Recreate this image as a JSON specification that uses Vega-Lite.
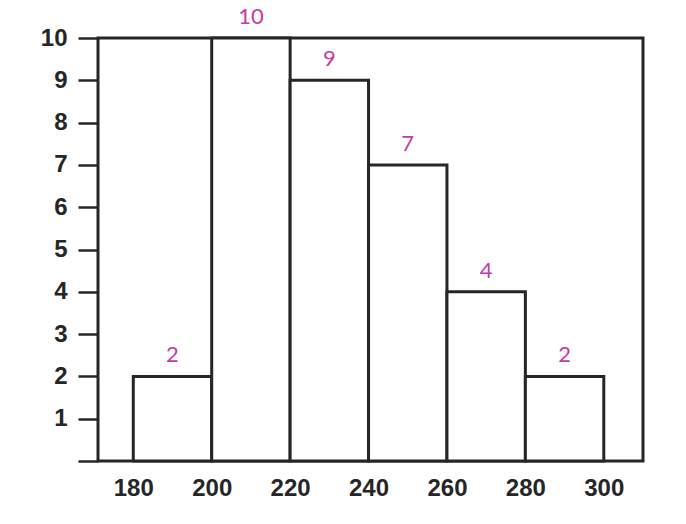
{
  "$schema": "https://vega.github.io/schema/vega-lite/v6.json",
  "width": 545,
  "height": 423,
  "autosize": {"type": "none"},
  "padding": {"left": 98, "top": 38, "right": 43, "bottom": 63},
  "background": "white",
  "config": {
    "view": {"stroke": "#262626", "strokeWidth": 3},
    "axis": {"labelFont": "Liberation Sans", "labelFontWeight": "bold", "labelFontSize": 24, "labelColor": "#262626", "grid": false, "title": null}
  },
  "data": {"values": [
    {"start": 180, "end": 200, "count": 2},
    {"start": 200, "end": 220, "count": 10},
    {"start": 220, "end": 240, "count": 9},
    {"start": 240, "end": 260, "count": 7},
    {"start": 260, "end": 280, "count": 4},
    {"start": 280, "end": 300, "count": 2}
  ]},
  "layer": [
    {
      "mark": {"type": "rect", "fill": "white", "stroke": "#262626", "strokeWidth": 3},
      "encoding": {
        "x": {"field": "start", "type": "quantitative", "scale": {"domain": [171, 310], "nice": false, "zero": false},
          "axis": {"values": [180, 200, 220, 240, 260, 280, 300], "ticks": false, "domain": false, "labelPadding": 15}},
        "x2": {"field": "end"},
        "y": {"field": "count", "type": "quantitative", "scale": {"domain": [0, 10], "nice": false},
          "axis": {"values": [0, 1, 2, 3, 4, 5, 6, 7, 8, 9, 10], "labelExpr": "datum.value == 0 ? '' : datum.label", "tickSize": 20, "tickWidth": 2.5, "tickColor": "#262626", "domain": false, "labelPadding": 11}},
        "y2": {"datum": 0}
      }
    },
    {
      "transform": [{"calculate": "(datum.start + datum.end) / 2", "as": "mid"}],
      "mark": {"type": "text", "dy": -21, "baseline": "middle", "align": "center", "font": "Lato", "fontWeight": 400, "fontSize": 22, "color": "#c63aa8"},
      "encoding": {
        "x": {"field": "mid", "type": "quantitative"},
        "y": {"field": "count", "type": "quantitative"},
        "text": {"field": "count", "type": "quantitative"}
      }
    }
  ]
}
